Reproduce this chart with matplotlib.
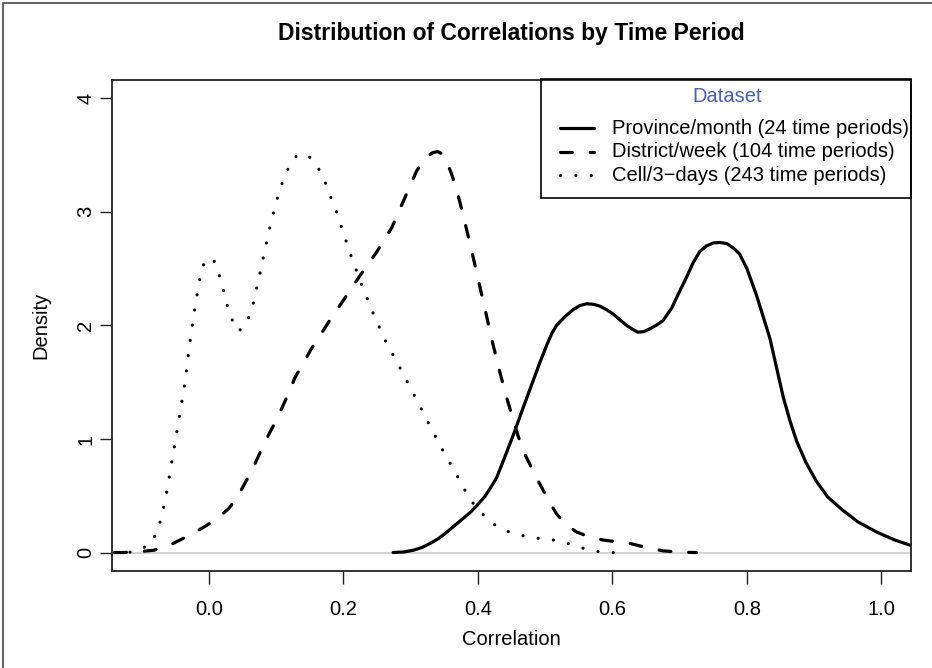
import matplotlib.pyplot as plt
from matplotlib.lines import Line2D
from matplotlib.patches import Rectangle

plt.rcParams['font.family'] = ['Liberation Sans', 'DejaVu Sans']

# density curves
prov_x = [0.274, 0.290, 0.304, 0.317, 0.329, 0.342, 0.354, 0.366, 0.378, 0.388,
          0.398, 0.410, 0.420, 0.428, 0.440, 0.453, 0.467, 0.482, 0.492, 0.502,
          0.510, 0.517, 0.530, 0.542, 0.552, 0.562, 0.572, 0.581, 0.591, 0.601,
          0.611, 0.621, 0.630, 0.638, 0.647, 0.656, 0.665, 0.675, 0.688, 0.700,
          0.710, 0.720, 0.730, 0.740, 0.750, 0.760, 0.770, 0.780, 0.789, 0.800,
          0.814, 0.824, 0.834, 0.844, 0.854, 0.864, 0.874, 0.888, 0.903, 0.920,
          0.943, 0.965, 0.993, 1.020, 1.045, 1.070]
prov_y = [0.0, 0.005, 0.02, 0.045, 0.08, 0.125, 0.18, 0.24, 0.30, 0.35,
          0.41, 0.49, 0.58, 0.66, 0.84, 1.04, 1.27, 1.51, 1.67, 1.82,
          1.93, 2.00, 2.08, 2.14, 2.175, 2.19, 2.185, 2.17, 2.14, 2.10,
          2.05, 2.00, 1.965, 1.94, 1.945, 1.97, 2.00, 2.04, 2.15, 2.30,
          2.42, 2.55, 2.65, 2.70, 2.725, 2.73, 2.72, 2.68, 2.63, 2.50,
          2.27, 2.08, 1.89, 1.63, 1.37, 1.16, 0.98, 0.79, 0.63, 0.49,
          0.37, 0.27, 0.18, 0.11, 0.06, 0.03]

dist_x = [-0.14, -0.127, -0.10, -0.082, -0.06, -0.043, -0.02, -0.003, 0.015, 0.03,
          0.04, 0.05, 0.06, 0.07, 0.08, 0.09, 0.10, 0.11, 0.12, 0.128,
          0.14, 0.151, 0.163, 0.175, 0.187, 0.20, 0.225, 0.25, 0.272, 0.289,
          0.30, 0.309, 0.318, 0.325, 0.333, 0.340, 0.347, 0.354, 0.361, 0.367,
          0.373, 0.383, 0.393, 0.403, 0.413, 0.423, 0.433, 0.443, 0.458, 0.467,
          0.477, 0.487, 0.497, 0.507, 0.517, 0.530, 0.547, 0.565, 0.586, 0.606,
          0.626, 0.650, 0.675, 0.700, 0.725]
dist_y = [0.0, 0.0, 0.01, 0.02, 0.06, 0.11, 0.18, 0.24, 0.31, 0.39,
          0.47, 0.57, 0.68, 0.80, 0.93, 1.05, 1.16, 1.29, 1.42, 1.54,
          1.66, 1.78, 1.89, 2.00, 2.11, 2.22, 2.44, 2.65, 2.86, 3.09,
          3.24, 3.36, 3.44, 3.49, 3.52, 3.53, 3.51, 3.44, 3.33, 3.22,
          3.09, 2.85, 2.60, 2.34, 2.08, 1.82, 1.58, 1.36, 1.06, 0.90,
          0.78, 0.66, 0.55, 0.44, 0.34, 0.25, 0.18, 0.14, 0.11, 0.095,
          0.08, 0.045, 0.015, 0.003, 0.0]

cell_x = [-0.14, -0.12, -0.103, -0.085, -0.075, -0.065, -0.055, -0.045, -0.035, -0.03,
          -0.024, -0.017, -0.013, -0.007, 0.0, 0.007, 0.015, 0.021, 0.026, 0.033,
          0.042, 0.050, 0.056, 0.064, 0.074, 0.083, 0.093, 0.104, 0.112, 0.121,
          0.128, 0.136, 0.145, 0.155, 0.166, 0.175, 0.183, 0.191, 0.198, 0.212,
          0.227, 0.244, 0.262, 0.283, 0.304, 0.324, 0.345, 0.367, 0.388, 0.402,
          0.418, 0.437, 0.458, 0.48, 0.502, 0.523, 0.544, 0.567, 0.589, 0.611]
cell_y = [0.0, 0.0, 0.02, 0.09, 0.21, 0.45, 0.80, 1.15, 1.52, 1.77,
          2.03, 2.29, 2.42, 2.55, 2.59, 2.58, 2.45, 2.33, 2.20, 2.07,
          1.95, 1.97, 2.02, 2.14, 2.40, 2.66, 2.92, 3.17, 3.30, 3.42,
          3.48, 3.51, 3.50, 3.46, 3.35, 3.23, 3.10, 2.98, 2.85, 2.60,
          2.36, 2.11, 1.87, 1.64, 1.40, 1.17, 0.93, 0.70, 0.47, 0.37,
          0.27, 0.20, 0.16, 0.13, 0.12, 0.10, 0.06, 0.02, 0.0, 0.0]

labels = ['Province/month (24 time periods)',
          'District/week (104 time periods)',
          'Cell/3\u2212days (243 time periods)']
x_ticks = [0.0, 0.2, 0.4, 0.6, 0.8, 1.0]
y_ticks = [0, 1, 2, 3, 4]

W, H = 932, 668
fig = plt.figure(figsize=(W / 100, H / 100), dpi=100)
ax = fig.add_axes([112 / W, 1 - 570.7 / H, (911 - 112) / W, (570.7 - 80) / H])

lw = 2.3
styles = [dict(linestyle='-', solid_capstyle='round'),
          dict(linestyle=(0, (3.7, 5.6)), dash_capstyle='round'),
          dict(linestyle=(0, (0.01, 4.8)), dash_capstyle='round')]

ax.axhline(0, color='#d0d0d0', lw=1.3, zorder=1)
for (xs, ys), st in zip([(prov_x, prov_y), (dist_x, dist_y), (cell_x, cell_y)], styles):
    ax.plot(xs, ys, color='black', lw=lw, solid_joinstyle='round', zorder=3, **st)

ax.set_xlim(-0.144, 1.044)
ax.set_ylim(-0.16, 4.16)
ax.set_xticks(x_ticks)
ax.set_xticklabels(['%.1f' % v for v in x_ticks])
ax.set_yticks(y_ticks)
ax.set_yticklabels([str(v) for v in y_ticks], rotation=90, va='center')
ax.tick_params(axis='both', length=9, width=1.0, color='#222222', labelsize=14.5)
ax.tick_params(axis='x', pad=12)
ax.tick_params(axis='y', pad=3)
for s in ax.spines.values():
    s.set_color('#222222')
    s.set_linewidth(1.3)

ax.set_xlabel('Correlation', fontsize=14.5, labelpad=8)
ax.set_ylabel('Density', fontsize=14.5, labelpad=19)
ax.set_title('Distribution of Correlations by Time Period', fontsize=16.5,
             fontweight='bold', pad=29)

# legend box drawn in figure pixels
def fx(px):
    return px / W

def fy(py):
    return 1 - py / H

fig.patches.append(Rectangle((fx(541), fy(197.7)), fx(911) - fx(541), fy(79.3) - fy(197.7),
                             transform=fig.transFigure, fill=False, edgecolor='black',
                             lw=1.2, zorder=5))
fig.text(fx(726.7), fy(97), 'Dataset', color='#4a5fb5', fontsize=14.5,
         ha='center', va='center')
for i, (lab, st) in enumerate(zip(labels, styles)):
    yy = fy(128 + 23.6 * i)
    fig.add_artist(Line2D([fx(560), fx(594)], [yy, yy], color='black', lw=lw,
                          transform=fig.transFigure, **st))
    fig.text(fx(611.7), yy, lab, fontsize=14.5, ha='left', va='center')

# outer frame of the picture
fig.add_artist(Line2D([fx(3), fx(3), fx(W + 5)], [fy(H + 5), fy(2.5), fy(2.5)],
                      color='#666666', lw=1.5, transform=fig.transFigure))

fig.savefig('out.png', dpi=100)
